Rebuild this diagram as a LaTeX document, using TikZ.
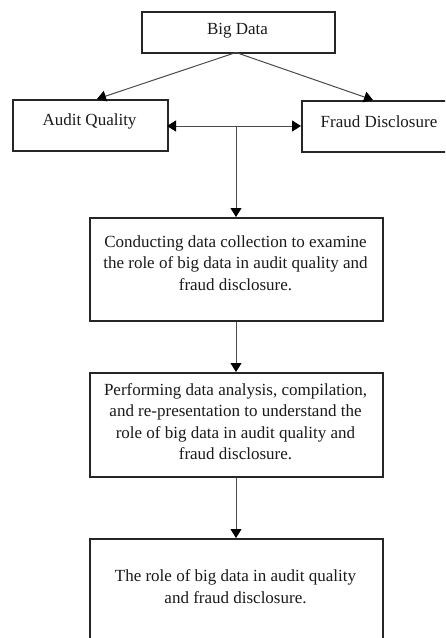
\documentclass[tikz,border=0pt]{standalone}
\usepackage{fontspec}
\setmainfont{Liberation Serif}
\usetikzlibrary{arrows.meta}
\definecolor{boxline}{HTML}{262626}
\definecolor{conn}{HTML}{4A4A4A}
\definecolor{ink}{HTML}{1A1A1A}
\tikzset{
  box/.style={draw=boxline, line width=1.6pt, rectangle, inner sep=0pt, anchor=north west},
  txt/.style={text=ink, align=center, inner sep=0pt, font=\fontsize{17}{21.3}\selectfont},
  conn/.style={draw=conn, line width=1pt},
  arr/.style={conn, -{Triangle[length=9pt,width=11pt,color=black]}},
  darr/.style={conn, {Triangle[length=9pt,width=11pt,color=black]}-{Triangle[length=9pt,width=11pt,color=black]}}
}
\begin{document}
\begin{tikzpicture}[x=1pt,y=1pt]
\useasboundingbox (0,0) rectangle (445,-638);
\clip (0,0) rectangle (445,-638);
\fill[white] (0,0) rectangle (445,-638);
% boxes
\node[box, minimum width=193pt, minimum height=41pt] (bd) at (141,-11) {};
\node[box, minimum width=155pt, minimum height=51pt] (aq) at (12,-99) {};
\node[box, minimum width=150pt, minimum height=51pt] (fd) at (301,-100) {};
\node[box, minimum width=293pt, minimum height=103pt] (b2) at (89,-217) {};
\node[box, minimum width=293pt, minimum height=104pt] (b3) at (89,-372) {};
\node[box, minimum width=293pt, minimum height=130pt] (b4) at (89,-538) {};
% texts
\node[txt] (bdt) at (237.5,-31) {Big Data};
\node[txt] (aqt) at (89.5,-121.5) {Audit Quality};
\node[txt] (fdt) at (379,-121.5) {Fraud Disclosure};
\node[txt] (b2t) at (235.5,-263) {Conducting data collection to examine\\the role of big data in audit quality and\\fraud disclosure.};
\node[txt] (b3t) at (235.5,-421.5) {Performing data analysis, compilation,\\and re-presentation to understand the\\role of big data in audit quality and\\fraud disclosure.};
\node[txt] (b4t) at (235.5,-586.5) {The role of big data in audit quality\\and fraud disclosure.};
% connector points
\coordinate (bdo) at (236,-52.5);
\coordinate (aqin) at (97,-99);
\coordinate (fdin) at (373,-100);
\coordinate (aqe) at (167,-126);
\coordinate (fdw) at (301,-126);
\coordinate (junc) at (236,-126);
% connectors
\draw[arr] (bdo) -- (aqin);
\draw[arr] (bdo) -- (fdin);
\draw[darr] (aqe) -- (fdw);
\draw[arr] (junc) -- (b2.north -| junc);
\draw[arr] (b2.south -| junc) -- (b3.north -| junc);
\draw[arr] (b3.south -| junc) -- (b4.north -| junc);
\end{tikzpicture}
\end{document}
